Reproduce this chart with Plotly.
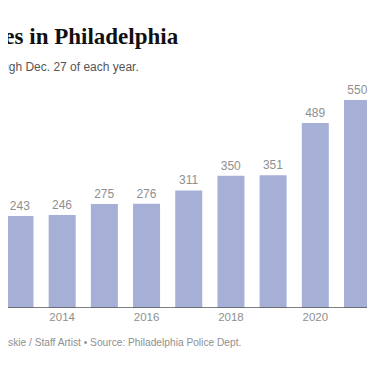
import plotly.graph_objects as go

years = [2013, 2014, 2015, 2016, 2017, 2018, 2019, 2020, 2021]
homicides = [243, 246, 275, 276, 311, 350, 351, 489, 550]
tick_years = [2014, 2016, 2018, 2020]
title_text = "Homicides in Philadelphia"
subtitle_text = "Homicides through Dec. 27 of each year."
source_text = "John Duchneskie / Staff Artist • Source: Philadelphia Police Dept."

BAR = "#a6b0d6"
GREY = "#8f8f8f"

# figure sits 8px in from the page's top-left corner
W, H = 367, 358
T, B, L, R = 72, 58, 0, 4
PH = H - T - B

fig = go.Figure()
fig.add_trace(go.Bar(
    x=years, y=homicides, width=0.64,
    marker=dict(color=BAR, line=dict(width=0)),
    text=[str(v) for v in homicides],
    textposition="outside", constraintext="none",
    textfont=dict(family="Liberation Sans, Arial", size=12, color=GREY),
    cliponaxis=False, hoverinfo="skip",
))

fig.update_layout(
    width=W, height=H,
    margin=dict(l=L, r=R, t=T, b=B),
    paper_bgcolor="white", plot_bgcolor="white",
    showlegend=False,
    xaxis=dict(range=[2012.716, 2021.32], tickvals=tick_years,
               ticktext=[str(y) for y in tick_years],
               showgrid=False, zeroline=False, showline=False, ticks="",
               tickfont=dict(family="Liberation Sans, Arial", size=11.5, color=GREY)),
    yaxis=dict(range=[0, 603], visible=False, showgrid=False, zeroline=False),
    shapes=[dict(type="line", xref="paper", yref="y", x0=0, x1=1, y0=0, y1=0,
                 line=dict(color="#555555", width=1.5))],
    annotations=[
        dict(text=f"<b>{title_text}</b>", xref="paper", yref="paper",
             x=173/363, y=1 + (T - 29) / PH, xanchor="right", yanchor="middle",
             showarrow=False, font=dict(family="Liberation Serif", size=23, color="#111111")),
        dict(text=subtitle_text, xref="paper", yref="paper",
             x=133/363, y=1 + (T - 59) / PH, xanchor="right", yanchor="middle",
             showarrow=False, font=dict(family="Liberation Sans, Arial", size=12, color="#555555")),
        dict(text=source_text, xref="paper", yref="paper",
             x=235/363, y=-(334 - (H - B)) / PH, xanchor="right", yanchor="middle",
             showarrow=False, font=dict(family="Liberation Sans, Arial", size=10.2, color=GREY)),
    ],
)

fig.write_html("out.html")
